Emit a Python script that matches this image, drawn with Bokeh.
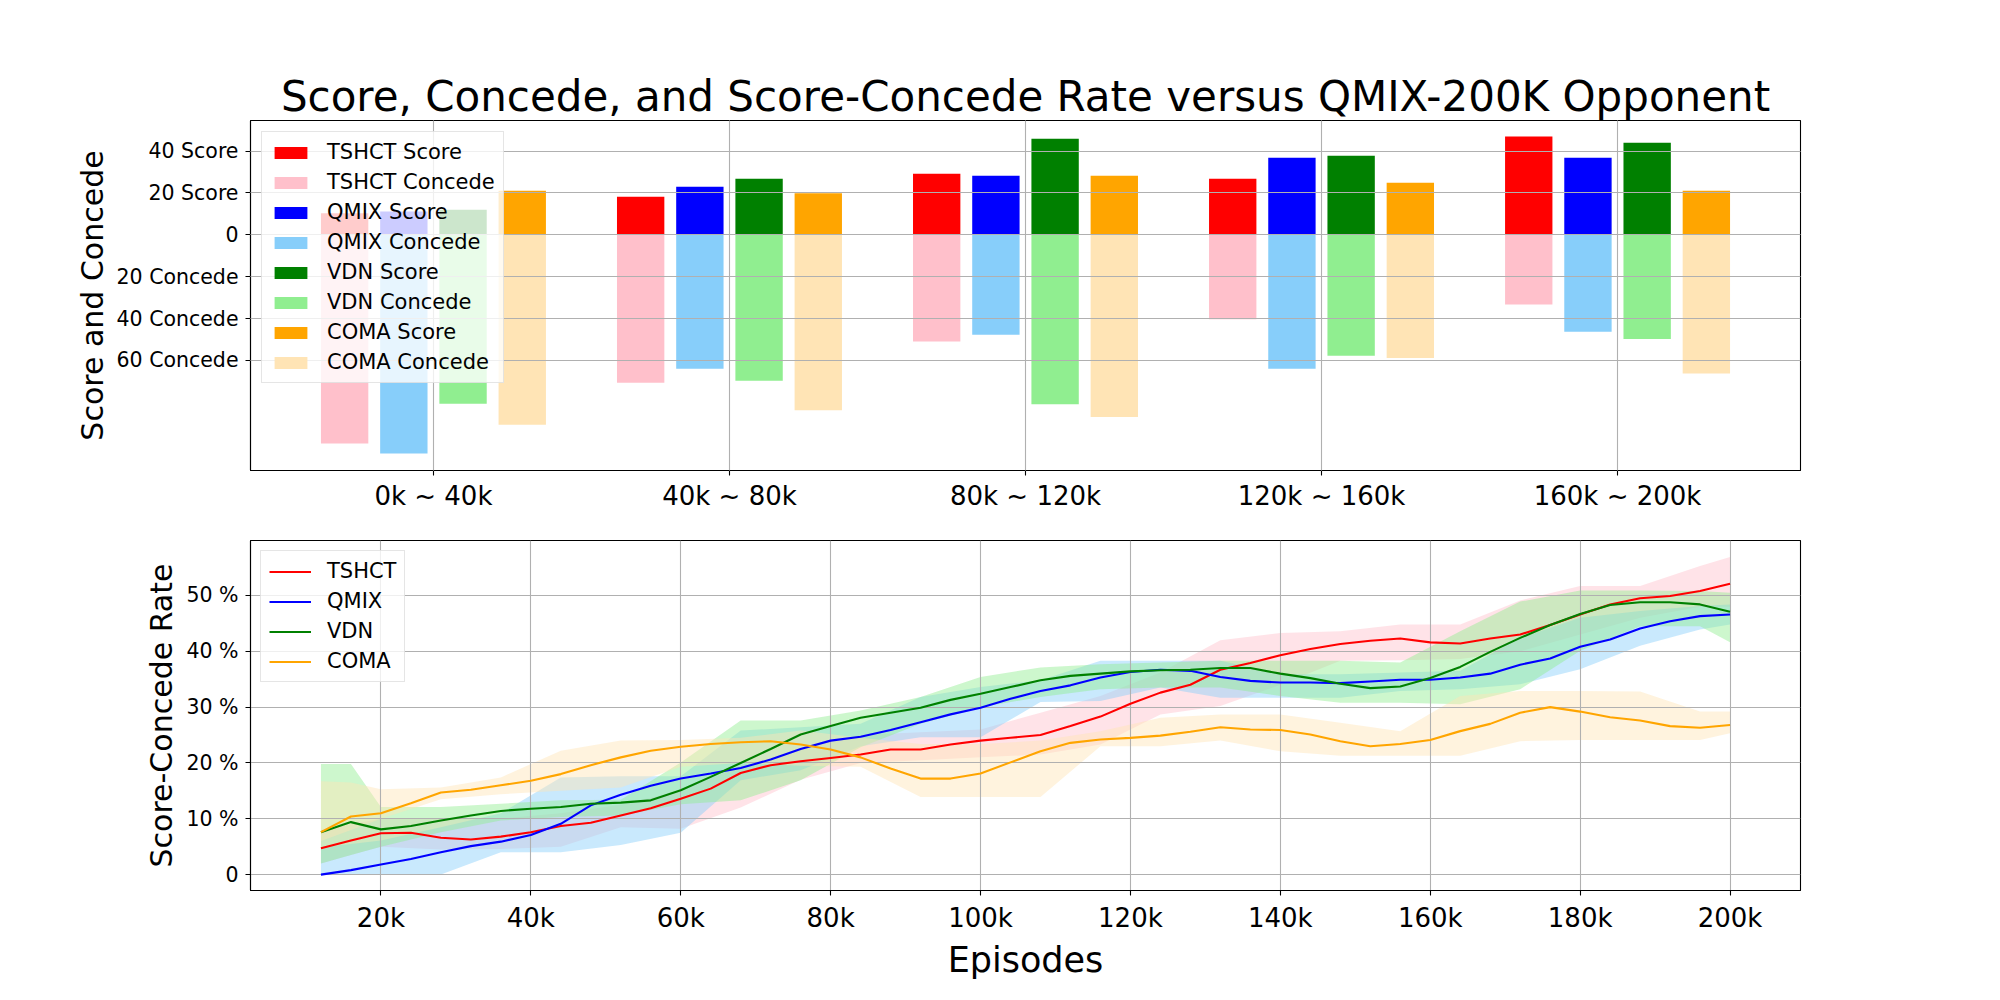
from bokeh.plotting import figure
from bokeh.layouts import column
from bokeh.models import Range1d, FixedTicker, Legend, LegendItem
from bokeh.embed import file_html
from bokeh.resources import INLINE

FONT = "DejaVu Sans"

# ---------------- data: top chart ----------------
groups = ["0k ~ 40k", "40k ~ 80k", "80k ~ 120k", "120k ~ 160k", "160k ~ 200k"]
methods = ["TSHCT", "QMIX", "VDN", "COMA"]

score_tshct = [10.3, 18.2, 29.2, 26.8, 46.9]
score_qmix = [11.1, 23.0, 28.2, 36.8, 36.8]
score_vdn = [12.0, 26.8, 45.9, 37.8, 44.0]
score_coma = [21.1, 19.8, 28.2, 24.9, 21.1]

concede_tshct = [99.7, 70.7, 51.0, 40.3, 33.3]
concede_qmix = [104.5, 64.0, 47.8, 64.0, 46.3]
concede_vdn = [80.7, 69.7, 80.9, 57.8, 49.8]
concede_coma = [90.7, 83.8, 87.1, 58.9, 66.3]

score_ticks = [40, 20, 0, -20, -40, -60]
score_tick_labels = ["40 Score", "20 Score", "0", "20 Concede", "40 Concede", "60 Concede"]

# ---------------- data: bottom chart ----------------
episodes_k = [12, 16, 20, 24, 28, 32, 36, 40, 44, 48, 52, 56, 60, 64, 68, 72, 76, 80,
              84, 88, 92, 96, 100, 104, 108, 112, 116, 120, 124, 128, 132, 136, 140,
              144, 148, 152, 156, 160, 164, 168, 172, 176, 180, 184, 188, 192, 196, 200]

rate_tshct = [4.7, 6.1, 7.4, 7.5, 6.6, 6.3, 6.8, 7.6, 8.7, 9.3, 10.6, 11.9, 13.6, 15.4,
              18.2, 19.6, 20.3, 20.9, 21.5, 22.4, 22.4, 23.3, 24.0, 24.5, 25.0, 26.6,
              28.3, 30.6, 32.6, 34.0, 36.7, 37.9, 39.3, 40.4, 41.3, 41.9, 42.3, 41.6,
              41.4, 42.3, 43.0, 44.7, 46.6, 48.4, 49.5, 49.9, 50.8, 52.1]
rate_qmix = [0.0, 0.8, 1.8, 2.8, 4.0, 5.1, 5.9, 7.1, 9.1, 12.4, 14.3, 15.9, 17.2, 18.1,
             19.1, 20.6, 22.5, 24.0, 24.7, 25.9, 27.3, 28.7, 29.9, 31.5, 32.9, 33.9,
             35.3, 36.3, 36.7, 36.5, 35.4, 34.7, 34.4, 34.4, 34.3, 34.6, 34.9, 34.9,
             35.3, 36.0, 37.6, 38.7, 40.8, 42.1, 44.1, 45.4, 46.3, 46.6]
rate_vdn = [7.6, 9.4, 8.1, 8.7, 9.7, 10.6, 11.4, 11.8, 12.1, 12.7, 12.9, 13.3, 15.1,
            17.5, 20.0, 22.5, 25.1, 26.6, 28.1, 29.0, 29.9, 31.3, 32.4, 33.6, 34.8,
            35.6, 36.0, 36.4, 36.6, 36.7, 37.0, 37.0, 36.0, 35.2, 34.2, 33.4, 33.7,
            35.2, 37.2, 39.9, 42.4, 44.7, 46.7, 48.3, 48.8, 48.8, 48.4, 47.1]
rate_coma = [7.6, 10.4, 11.0, 12.8, 14.7, 15.2, 16.0, 16.8, 18.0, 19.6, 21.0, 22.2,
             22.9, 23.4, 23.7, 23.9, 23.3, 22.4, 21.0, 19.0, 17.2, 17.2, 18.1, 20.1,
             22.1, 23.6, 24.2, 24.5, 24.9, 25.6, 26.4, 26.0, 25.9, 25.1, 23.9, 23.0,
             23.4, 24.1, 25.7, 27.0, 29.0, 30.0, 29.2, 28.2, 27.6, 26.6, 26.3, 26.8]

band_k = [12, 16, 20, 28, 36, 44, 52, 60, 68, 76, 84, 92, 100, 108, 116, 124, 132, 140,
          148, 156, 164, 172, 180, 188, 196, 200]
band_tshct_lo = [2.0, 3.5, 5.0, 4.5, 4.6, 5.0, 8.5, 8.2, 12.0, 17.0, 20.0, 20.5, 21.0, 21.5,
                 23.3, 28.7, 30.2, 34.0, 38.3, 38.4, 38.6, 40.0, 43.0, 46.0, 48.0, 48.0]
band_tshct_hi = [8.0, 9.0, 10.0, 10.0, 10.0, 11.0, 12.5, 15.0, 19.5, 22.5, 25.0, 25.5, 26.0,
                 29.0, 32.0, 36.2, 42.0, 43.3, 43.6, 44.8, 44.8, 49.1, 51.7, 51.7, 55.3, 56.9]
band_qmix_lo = [0.0, 0.0, 0.0, 0.0, 4.0, 4.0, 5.3, 7.5, 16.9, 18.7, 23.0, 24.6, 24.6, 30.9,
                31.1, 33.5, 31.7, 31.7, 31.7, 32.9, 33.2, 34.1, 36.8, 41.0, 43.9, 44.8]
band_qmix_hi = [4.9, 5.5, 6.1, 8.5, 11.0, 17.4, 17.6, 17.6, 25.8, 26.4, 27.0, 31.8, 33.6,
                34.8, 38.3, 38.3, 38.3, 35.9, 35.9, 36.2, 36.5, 42.4, 46.0, 47.2, 48.1, 48.4]
band_vdn_lo = [2.0, 3.5, 5.0, 7.6, 9.7, 10.3, 10.6, 12.6, 13.3, 16.9, 22.8, 27.0, 30.0, 31.8,
               33.2, 33.5, 33.5, 32.0, 30.8, 30.8, 30.5, 33.2, 40.1, 44.5, 44.5, 41.6]
band_vdn_hi = [19.8, 19.8, 12.1, 12.1, 12.7, 13.3, 13.4, 20.1, 27.6, 27.6, 29.4, 31.8, 35.4,
               37.1, 37.7, 38.0, 38.3, 38.3, 38.3, 38.0, 43.6, 48.9, 50.9, 50.9, 50.8, 50.5]
band_coma_lo = [6.0, 8.0, 10.0, 13.5, 14.4, 15.0, 15.6, 19.3, 20.0, 19.5, 19.3, 13.9, 13.9,
                13.9, 23.0, 23.0, 24.0, 22.1, 21.3, 21.3, 21.3, 23.9, 24.1, 24.1, 24.1, 25.3]
band_coma_hi = [16.7, 16.5, 15.3, 15.6, 17.4, 22.2, 24.0, 24.1, 24.5, 25.8, 24.5, 23.4, 23.4,
                24.0, 25.7, 28.1, 28.7, 28.7, 27.2, 25.7, 32.0, 32.9, 32.9, 32.8, 29.2, 29.2]

rate_ticks = [0, 10, 20, 30, 40, 50]
rate_tick_labels = ["0", "10 %", "20 %", "30 %", "40 %", "50 %"]
episode_ticks = [20, 40, 60, 80, 100, 120, 140, 160, 180, 200]
episode_tick_labels = ["20k", "40k", "60k", "80k", "100k", "120k", "140k", "160k", "180k", "200k"]

score_colors = ["red", "blue", "green", "orange"]
concede_colors = ["pink", "lightskyblue", "lightgreen", "moccasin"]
line_colors = ["red", "blue", "green", "orange"]
band_colors = ["pink", "lightskyblue", "lightgreen", "moccasin"]


def style_axes(p, xfont, yfont, label_font):
    for ax in (p.xaxis[0], p.yaxis[0]):
        ax.axis_line_color = "black"
        ax.axis_line_width = 1.1
        ax.major_tick_line_color = "black"
        ax.major_tick_line_width = 1.1
        ax.major_tick_out = 5
        ax.major_tick_in = 0
        ax.minor_tick_line_color = None
        ax.major_label_text_font = FONT
        ax.major_label_text_color = "black"
        ax.major_label_standoff = 7
        ax.axis_label_text_font = FONT
        ax.axis_label_text_font_style = "normal"
        ax.axis_label_text_font_size = label_font
        ax.axis_label_text_color = "black"
        ax.axis_label_standoff = 4
    p.xaxis[0].major_label_text_font_size = xfont
    p.yaxis[0].major_label_text_font_size = yfont
    p.outline_line_color = "black"
    p.outline_line_width = 1.1
    p.outline_line_alpha = 1.0
    for g in (p.xgrid[0], p.ygrid[0]):
        g.grid_line_color = "#b0b0b0"
        g.grid_line_width = 1.1


def style_legend(leg, glyph_w):
    leg.label_text_font = FONT
    leg.label_text_font_size = "21px"
    leg.label_text_color = "black"
    leg.glyph_width = glyph_w
    leg.glyph_height = 15
    leg.label_height = 21
    leg.label_standoff = 16
    leg.spacing = 6
    leg.padding = 8
    leg.margin = 11
    leg.border_line_color = "#cccccc"
    leg.border_line_width = 1
    leg.background_fill_alpha = 0.8


# ---------------- top chart ----------------
p1 = figure(width=1992, height=520, output_backend="svg", toolbar_location=None,
            x_range=Range1d(-3.09, 23.09), y_range=Range1d(-112.6, 54.6),
            min_border_left=250, min_border_right=192, min_border_top=120,
            min_border_bottom=50)
p1.title.text = "Score, Concede, and Score-Concede Rate versus QMIX-200K Opponent"
p1.title.align = "center"
p1.title.text_font = FONT
p1.title.text_font_size = "42px"
p1.title.text_font_style = "normal"
p1.title.text_color = "black"
p1.title.standoff = 0

score_lists = [score_tshct, score_qmix, score_vdn, score_coma]
concede_lists = [concede_tshct, concede_qmix, concede_vdn, concede_coma]
group_pos = [5 * i for i in range(len(groups))]
offsets = [-1.5, -0.5, 0.5, 1.5]

items1 = []
for k, m in enumerate(methods):
    xs = [g + offsets[k] for g in group_pos]
    rs = p1.vbar(x=xs, top=score_lists[k], bottom=0, width=0.8,
                 fill_color=score_colors[k], line_color=None)
    rc = p1.vbar(x=xs, top=0, bottom=[-v for v in concede_lists[k]], width=0.8,
                 fill_color=concede_colors[k], line_color=None)
    items1.append(LegendItem(label=m + " Score", renderers=[rs]))
    items1.append(LegendItem(label=m + " Concede", renderers=[rc]))

p1.xaxis[0].ticker = FixedTicker(ticks=group_pos)
p1.xaxis[0].major_label_overrides = {g: lab for g, lab in zip(group_pos, groups)}
p1.yaxis[0].ticker = FixedTicker(ticks=score_ticks)
p1.yaxis[0].major_label_overrides = {t: lab for t, lab in zip(score_ticks, score_tick_labels)}
p1.yaxis[0].axis_label = "Score and Concede"
style_axes(p1, "26px", "20.5px", "30px")
p1.xaxis[0].major_label_standoff = 5
p1.xgrid[0].level = "guide"
p1.ygrid[0].level = "guide"

leg1 = Legend(items=items1, location="top_left")
style_legend(leg1, 41)
p1.add_layout(leg1)

# ---------------- bottom chart ----------------
p2 = figure(width=1992, height=470, output_backend="svg", toolbar_location=None,
            x_range=Range1d(2.6, 209.4), y_range=Range1d(-2.85, 59.85),
            min_border_left=250, min_border_right=192, min_border_top=20,
            min_border_bottom=100)

rates = [rate_tshct, rate_qmix, rate_vdn, rate_coma]
bands = [(band_tshct_lo, band_tshct_hi), (band_qmix_lo, band_qmix_hi),
         (band_vdn_lo, band_vdn_hi), (band_coma_lo, band_coma_hi)]
for k in range(len(methods)):
    lo, hi = bands[k]
    p2.varea(x=band_k, y1=lo, y2=hi, fill_color=band_colors[k], fill_alpha=0.45,
             level="image")

items2 = []
for k, m in enumerate(methods):
    r = p2.line(x=episodes_k, y=rates[k], line_color=line_colors[k], line_width=2.1)
    items2.append(LegendItem(label=m, renderers=[r]))

p2.xaxis[0].ticker = FixedTicker(ticks=episode_ticks)
p2.xaxis[0].major_label_overrides = {t: lab for t, lab in zip(episode_ticks, episode_tick_labels)}
p2.yaxis[0].ticker = FixedTicker(ticks=rate_ticks)
p2.yaxis[0].major_label_overrides = {t: lab for t, lab in zip(rate_ticks, rate_tick_labels)}
p2.xaxis[0].axis_label = "Episodes"
p2.yaxis[0].axis_label = "Score-Concede Rate"
style_axes(p2, "26px", "20.5px", "30px")
p2.xaxis[0].axis_label_text_font_size = "35px"

leg2 = Legend(items=items2, location="top_left")
style_legend(leg2, 42)
leg2.margin = 10
p2.add_layout(leg2)

layout = column(p1, p2)
open("out.html", "w").write(file_html(layout, INLINE))
